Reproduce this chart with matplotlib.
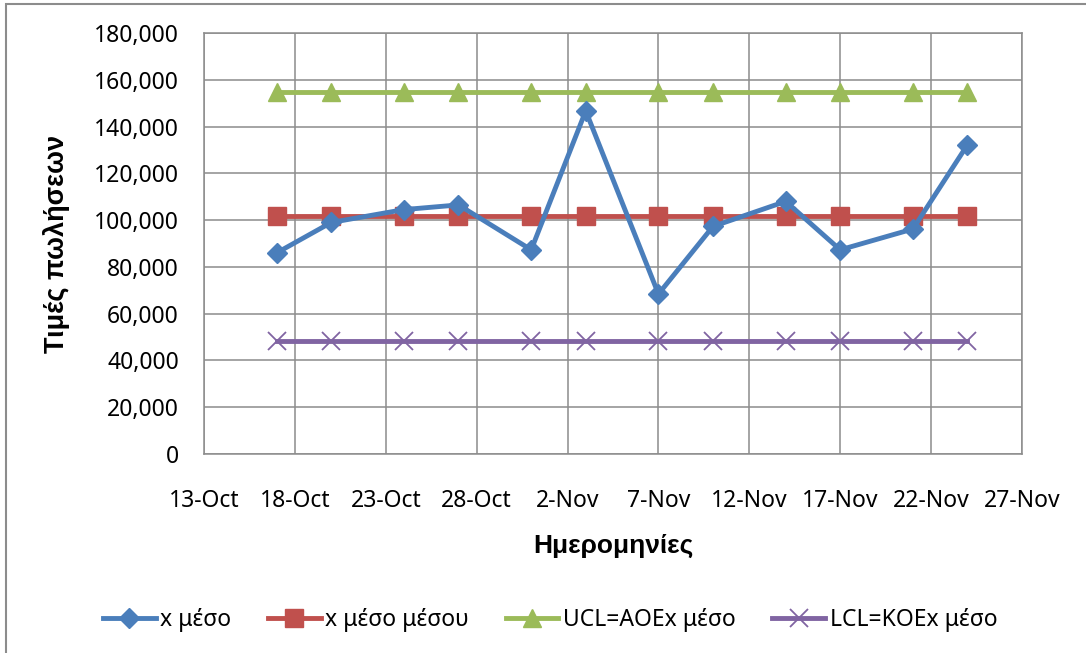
import datetime as dt
import matplotlib
matplotlib.use('Agg')
import matplotlib.pyplot as plt
import matplotlib.dates as mdates
from matplotlib.ticker import FuncFormatter, MultipleLocator
from matplotlib.patches import Rectangle

plt.rcParams['font.family'] = ['Noto Sans', 'DejaVu Sans']

# data
dates = ['2012-10-17', '2012-10-20', '2012-10-24', '2012-10-27', '2012-10-31', '2012-11-03',
         '2012-11-07', '2012-11-10', '2012-11-14', '2012-11-17', '2012-11-21', '2012-11-24']
x_mean = [86000, 99000, 104500, 106500, 87300, 146700, 68400, 97300, 108000, 87300, 96200, 132200]
x_mean_mean = [101600] * 12
ucl = [154700] * 12
lcl = [48400] * 12
tick_dates = ['2012-10-13', '2012-10-18', '2012-10-23', '2012-10-28', '2012-11-02',
              '2012-11-07', '2012-11-12', '2012-11-17', '2012-11-22', '2012-11-27']

days = [dt.datetime.strptime(d, '%Y-%m-%d') for d in dates]
ticks = [dt.datetime.strptime(d, '%Y-%m-%d') for d in tick_dates]

fig = plt.figure(figsize=(10.86, 6.53), dpi=100)
ax = fig.add_axes([204 / 1086, 1 - 454 / 653, 818 / 1086, 421 / 653])

grid_c = '#8c8c8c'
fs = 16.5

ax.plot(days, x_mean, color='#4a7ebb', lw=3.5, marker='D', ms=10, label='x μέσο', zorder=5)
ax.plot(days, x_mean_mean, color='#c0504d', lw=3.5, marker='s', ms=13.5, label='x μέσο μέσου', zorder=4)
ax.plot(days, ucl, color='#9bbb59', lw=3.5, marker='^', ms=13.5, label='UCL=AOEx μέσο', zorder=4)
ax.plot(days, lcl, color='#8064a2', lw=3.5, marker='x', ms=13, mew=1.3, label='LCL=KOEx μέσο', zorder=4)

ax.set_xlim(ticks[0], ticks[-1])
ax.set_ylim(0, 180000)
ax.set_xticks(ticks)
ax.xaxis.set_major_formatter(FuncFormatter(
    lambda v, p: '%d-%s' % (mdates.num2date(v).day, mdates.num2date(v).strftime('%b'))))
ax.yaxis.set_major_locator(MultipleLocator(20000))
ax.yaxis.set_major_formatter(FuncFormatter(lambda v, p: '{:,.0f}'.format(v)))
ax.grid(True, color=grid_c, lw=1.1)
ax.set_axisbelow(True)
for s in ax.spines.values():
    s.set_color(grid_c)
    s.set_linewidth(1.1)
ax.tick_params(axis='both', length=0, labelsize=fs)
ax.tick_params(axis='x', pad=25)
ax.tick_params(axis='y', pad=18)

bold_font = ['Liberation Sans', 'DejaVu Sans']
ax.set_ylabel('Τιμές πωλήσεων', fontsize=19.5, fontweight='bold', family=bold_font)
ax.yaxis.set_label_coords(-0.164, 0.5)
ax.set_xlabel('Ημερομηνίες', fontsize=19, fontweight='bold', family=bold_font)
ax.xaxis.set_label_coords(0.5, -0.19)

fig.legend(loc='center', bbox_to_anchor=(550 / 1086, 1 - 620 / 653), ncol=4, frameon=False,
           fontsize=fs, handlelength=2.3, handletextpad=0.2, columnspacing=1.6)

# chart border (cut off at right and bottom)
fig.patches.append(Rectangle((6 / 1086, -0.1), 1.2, 1.1 - 4 / 653, transform=fig.transFigure,
                             fill=False, edgecolor='#8c8c8c', lw=1.5))

fig.savefig('out.png', dpi=100)
